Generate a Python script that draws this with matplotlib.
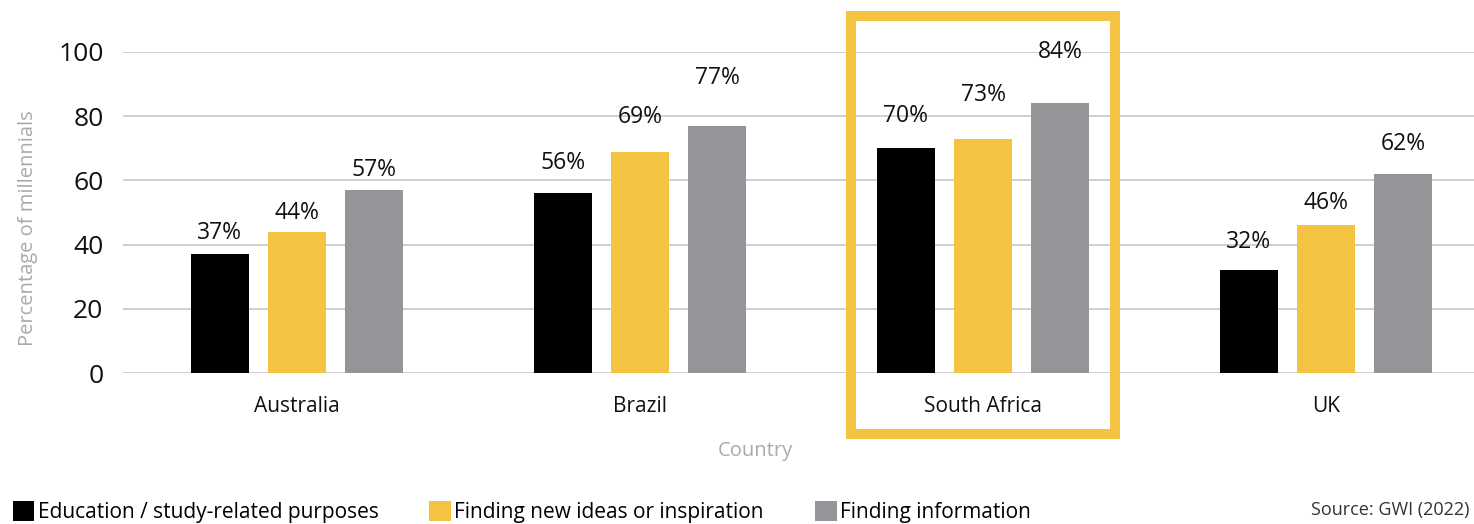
import numpy as np
import matplotlib.pyplot as plt
from matplotlib.patches import Rectangle, Patch

plt.rcParams['font.family'] = ['Open Sans', 'DejaVu Sans']

# values per country, one list per purpose
countries = ['Australia', 'Brazil', 'South Africa', 'UK']
education = [37, 56, 70, 32]
new_ideas = [44, 69, 73, 46]
information = [57, 77, 84, 62]
series_names = ['Education / study-related purposes',
                'Finding new ideas or inspiration',
                'Finding information']
highlight = 'South Africa'
source = 'Source: GWI (2022)'

BLACK = '#000000'
YELLOW = '#F5C342'
GREY = '#939598'
colors = [BLACK, YELLOW, GREY]

# how far each value label sits above its bar (data units)
label_lift = [
    [6.5, 9.5, 10.0, 8.8],
    [6.0, 10.8, 13.6, 7.0],
    [6.2, 14.9, 16.0, 9.3],
]

fig = plt.figure(figsize=(14.74, 5.24), dpi=100)
ax = fig.add_axes([0.0834, 0.288, 0.9166, 0.6128])

x = np.arange(len(countries))
pitch = 0.225
width = 0.169
series = [education, new_ideas, information]
for i, vals in enumerate(series):
    pos = x + (i - 1) * pitch
    ax.bar(pos, vals, width=width, color=colors[i], zorder=3)
    for j, v in enumerate(vals):
        ax.text(pos[j], v + label_lift[i][j], f'{v}%', ha='center', va='center',
                fontsize=16.5, color='#111111', clip_on=False)

ax.set_xlim(-0.507, 3.431)
ax.set_ylim(0, 100)
ax.set_yticks(range(0, 101, 20))
ax.yaxis.grid(True, color='#CCCCCC', linewidth=1.3, zorder=0)
for s in ax.spines.values():
    s.set_visible(False)
ax.tick_params(axis='y', length=0, pad=14, labelsize=19, labelcolor='#111111')
ax.tick_params(axis='x', length=0, pad=16.5, labelsize=15, labelcolor='#111111')
ax.set_xticks(x)
ax.set_xticklabels(countries)

ax.set_xlabel('Country', fontsize=14.5, color='#AAAAAA')
ax.xaxis.set_label_coords(0.468, -0.21)
ax.set_ylabel('Percentage of millennials', fontsize=14.5, color='#AAAAAA')
ax.yaxis.set_label_coords(-0.063, 0.45)

# box around the highlighted country
k = countries.index(highlight)
box = Rectangle((x[k] - 0.385, -19.0), 0.77, 130.2, fill=False,
                edgecolor=YELLOW, linewidth=7.2, transform=ax.transData,
                clip_on=False, zorder=4)
ax.add_patch(box)

handles = [Patch(facecolor=c, edgecolor='none') for c in colors]
fig.legend(handles, series_names, loc='lower left', bbox_to_anchor=(0.0, -0.022),
           ncol=3, frameon=False, fontsize=15, handlelength=1.05, handleheight=1.05,
           handletextpad=0.15, columnspacing=2.45, borderaxespad=0.2)

fig.text(0.997, 0.026, source, ha='right', va='center', fontsize=13, color='#333333')

fig.savefig('out.png', dpi=100)
